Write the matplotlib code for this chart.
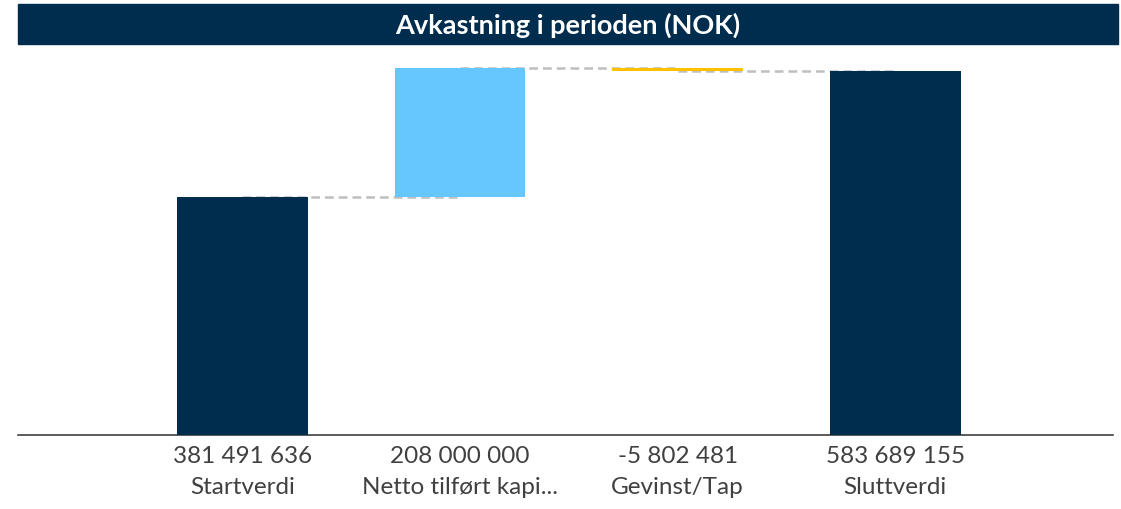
import matplotlib.pyplot as plt
from matplotlib.patches import Rectangle

categories = ["Startverdi", "Netto tilført kapi...", "Gevinst/Tap", "Sluttverdi"]
values = [381491636, 208000000, -5802481, 583689155]
is_total = [True, False, False, True]
colors = ["#002D4D", "#66C7FF", "#FFC000", "#002D4D"]

plt.rcParams["font.family"] = ["Lato", "DejaVu Sans"]

fig = plt.figure(figsize=(11.21, 5.10), dpi=100)
ax = fig.add_axes([18 / 1121, 74 / 510, 1095 / 1121, 385 / 510])

x = list(range(len(values)))
bottoms, heights, levels = [], [], []
running = 0
for v, tot in zip(values, is_total):
    if tot:
        bottoms.append(0)
        heights.append(v)
        running = v
    else:
        bottoms.append(running)
        heights.append(v)
        running += v
    levels.append(running)

ax.bar(x, heights, bottom=bottoms, width=0.6, color=colors, zorder=3)

# connectors between bars
for i in range(len(x) - 1):
    ax.plot([x[i], x[i + 1]], [levels[i], levels[i]], color="#BFBFBF",
            linestyle=(0, (3.5, 2)), linewidth=1.8, zorder=2)

ax.set_xlim(-1.03, 4.0)
ax.set_ylim(0, 618e6)
for s in ["top", "left", "right"]:
    ax.spines[s].set_visible(False)
ax.spines["bottom"].set_color("#404040")
ax.spines["bottom"].set_linewidth(1.2)
ax.set_yticks([])
labels = [f"{v:,}".replace(",", " ") + "\n" + c for v, c in zip(values, categories)]
ax.set_xticks(x)
ax.set_xticklabels(labels, fontsize=17.5, color="#404040", linespacing=1.6)
ax.tick_params(axis="x", length=0, pad=7)

# title bar
fig.patches.append(Rectangle((18 / 1121, 1 - 45 / 510), 1100 / 1121, 40 / 510,
                             transform=fig.transFigure, color="#002D4D", zorder=0))
fig.text(0.5 * (18 + 1118) / 1121, 1 - 25 / 510, "Avkastning i perioden (NOK)",
         ha="center", va="center", color="white", fontsize=19.5, fontweight="bold")

fig.savefig("out.png", dpi=100)
